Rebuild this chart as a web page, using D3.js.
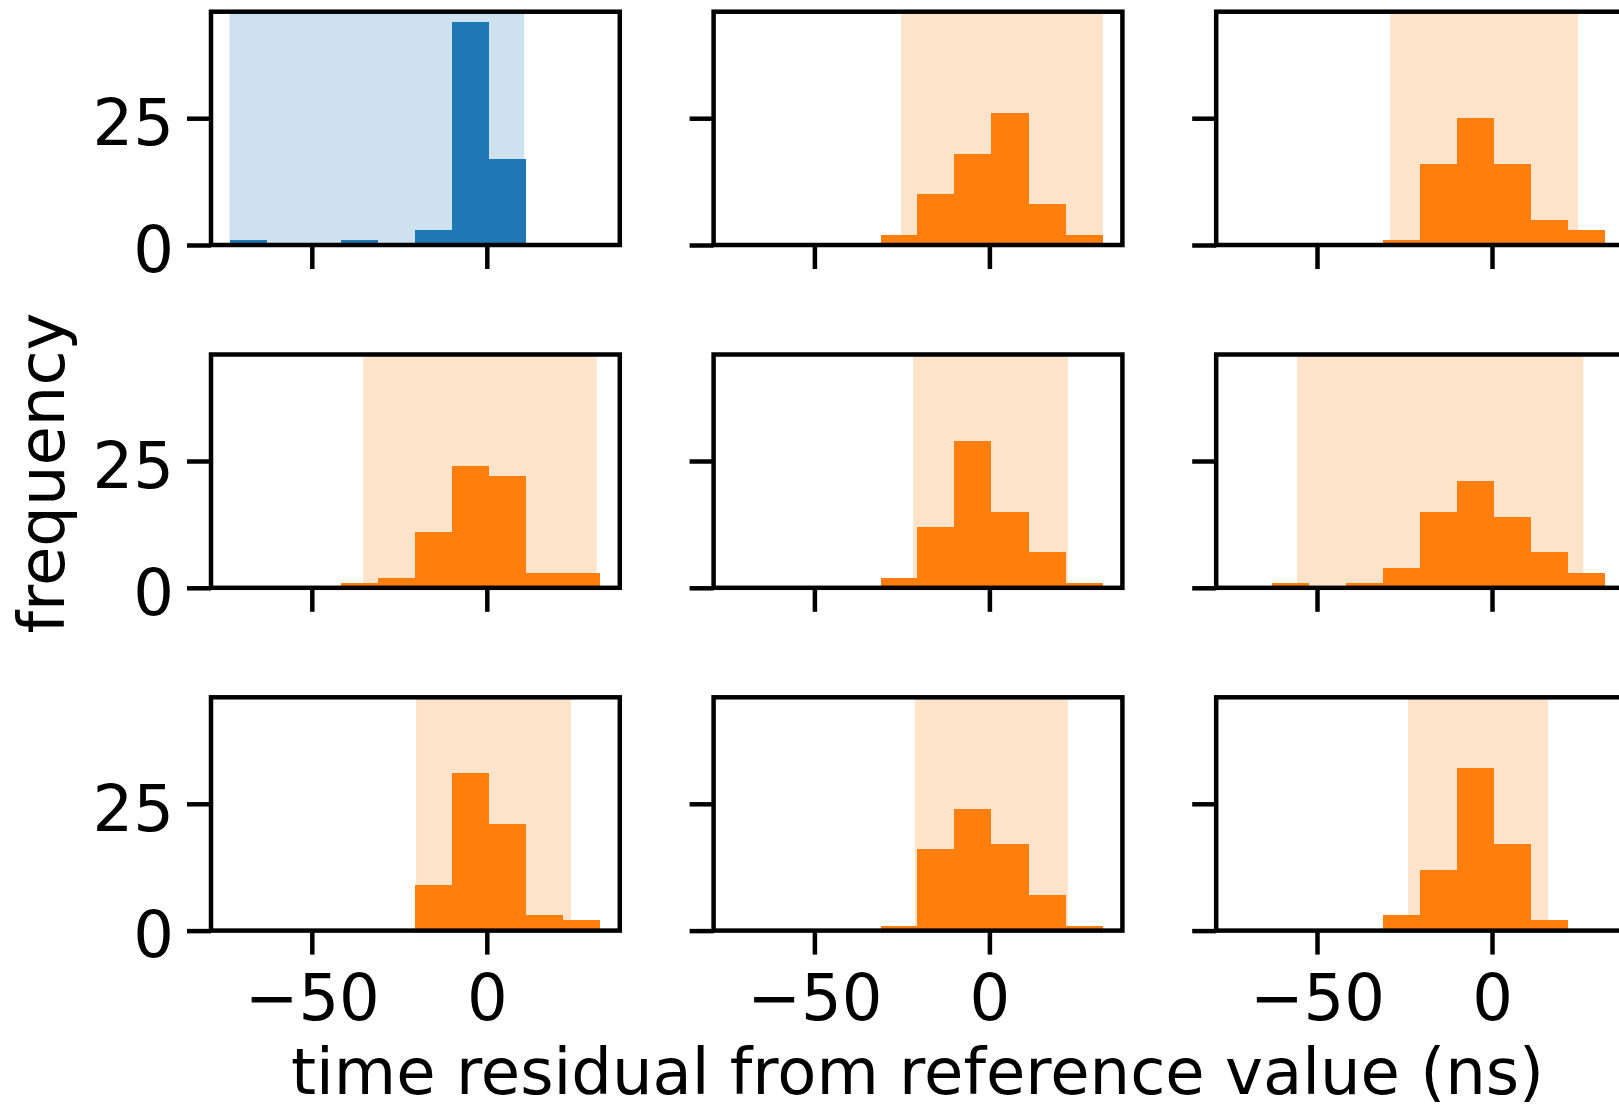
<body style="margin:0;background:#fff">
    <script src="https://d3js.org/d3.v7.min.js"></script>

    <style>
      * {
        font-family: "DejaVu Sans", sans-serif;
      }
      .tick text {
        font-size: 64px;
        fill: #000;
      }
    </style>

    <script>
        // shared histogram bins (ns)
        var binEdges = [-73.5, -62.9, -52.3, -41.7, -31.1, -20.6, -10.0, 0.6, 11.2, 21.8, 32.4];

        // counts per panel, read left-to-right, top-to-bottom
        var hist1 = [1, 0, 0, 1, 0, 3, 44, 17, 0, 0];
        var hist2 = [0, 0, 0, 0, 2, 10, 18, 26, 8, 2];
        var hist3 = [0, 0, 0, 0, 1, 16, 25, 16, 5, 3];
        var hist4 = [0, 0, 0, 1, 2, 11, 24, 22, 3, 3];
        var hist5 = [0, 0, 0, 0, 2, 12, 29, 15, 7, 1];
        var hist6 = [0, 1, 0, 1, 4, 15, 21, 14, 7, 3];
        var hist7 = [0, 0, 0, 0, 0, 9, 31, 21, 3, 2];
        var hist8 = [0, 0, 0, 0, 1, 16, 24, 17, 7, 1];
        var hist9 = [0, 0, 0, 0, 3, 12, 32, 17, 2, 0];

        // shaded interval per panel
        var spanStart = [-73.5, -25.3, -29.1, -35.3, -21.8, -55.7, -20.2, -21.3, -24.0];
        var spanEnd   = [10.7, 32.4, 24.6, 31.4, 22.4, 26.1, 24.1, 22.4, 16.0];

        var xTicks = [-50, 0];
        var yTicks = [0, 25];
        var xDomain = [-78.8, 38.0];
        var yDomain = [0, 46];

        var hists = [hist1, hist2, hist3, hist4, hist5, hist6, hist7, hist8, hist9];

        var W = 1619, H = 1108,
            left0 = 211, top0 = 11.7,
            colStep = 502.6, rowStep = 342.8,
            pw = 408.8, ph = 233.3,
            lw = 4.5;

        var svg = d3.select("body").append("svg")
            .attr("width", W)
            .attr("height", H)
            .style("display", "block");

        var x = d3.scaleLinear().domain(xDomain).range([0, pw]);
        var y = d3.scaleLinear().domain(yDomain).range([ph, 0]);

        var minus = d => d < 0 ? "\u2212" + Math.abs(d) : "" + d;

        hists.forEach((counts, i) => {
            var row = Math.floor(i / 3), col = i % 3;
            var isBlue = i === 0;
            var color = isBlue ? "#1f77b4" : "#ff7f0e";

            var g = svg.append("g")
                .attr("transform", "translate(" + (left0 + col * colStep) + "," + (top0 + row * rowStep) + ")");

            // shaded span
            g.append("rect")
                .attr("x", x(spanStart[i]))
                .attr("width", x(spanEnd[i]) - x(spanStart[i]))
                .attr("y", 0)
                .attr("height", ph)
                .style("fill", color)
                .style("fill-opacity", 0.22);

            var bins = counts.map((c, k) => ({x0: binEdges[k], x1: binEdges[k + 1], n: c}))
                .filter(d => d.n > 0);

            g.selectAll("rect.bar")
                .data(bins)
                .enter()
                .append("rect")
                    .attr("class", "bar")
                    .attr("x", d => x(d.x0))
                    .attr("width", d => x(d.x1) - x(d.x0))
                    .attr("y", d => y(d.n))
                    .attr("height", d => y(0) - y(d.n))
                    .attr("shape-rendering", "crispEdges")
                    .style("fill", color);

            // axes
            var xa = g.append("g")
                .attr("transform", "translate(0," + ph + ")")
                .call(d3.axisBottom(x).tickValues(xTicks).tickSize(24).tickPadding(20)
                    .tickFormat(row === 2 ? minus : ""));
            var ya = g.append("g")
                .call(d3.axisLeft(y).tickValues(yTicks).tickSize(24).tickPadding(13)
                    .tickFormat(col === 0 ? minus : ""));

            [xa, ya].forEach(a => {
                a.select(".domain").remove();
                a.selectAll(".tick line").attr("stroke", "#000").attr("stroke-width", lw);
                a.attr("font-family", null).attr("font-size", null);
            });
            ya.selectAll(".tick text").attr("dy", "0.41em");

            // frame
            g.append("rect")
                .attr("width", pw)
                .attr("height", ph)
                .style("fill", "none")
                .style("stroke", "#000")
                .style("stroke-width", lw);
        });

        svg.append("text")
            .attr("x", 917.5)
            .attr("y", 1094)
            .attr("text-anchor", "middle")
            .style("font-size", "64px")
            .text("time residual from reference value (ns)");

        svg.append("text")
            .attr("transform", "translate(63.5,473) rotate(-90)")
            .attr("text-anchor", "middle")
            .style("font-size", "64px")
            .text("frequency");
    </script>
  </body>
